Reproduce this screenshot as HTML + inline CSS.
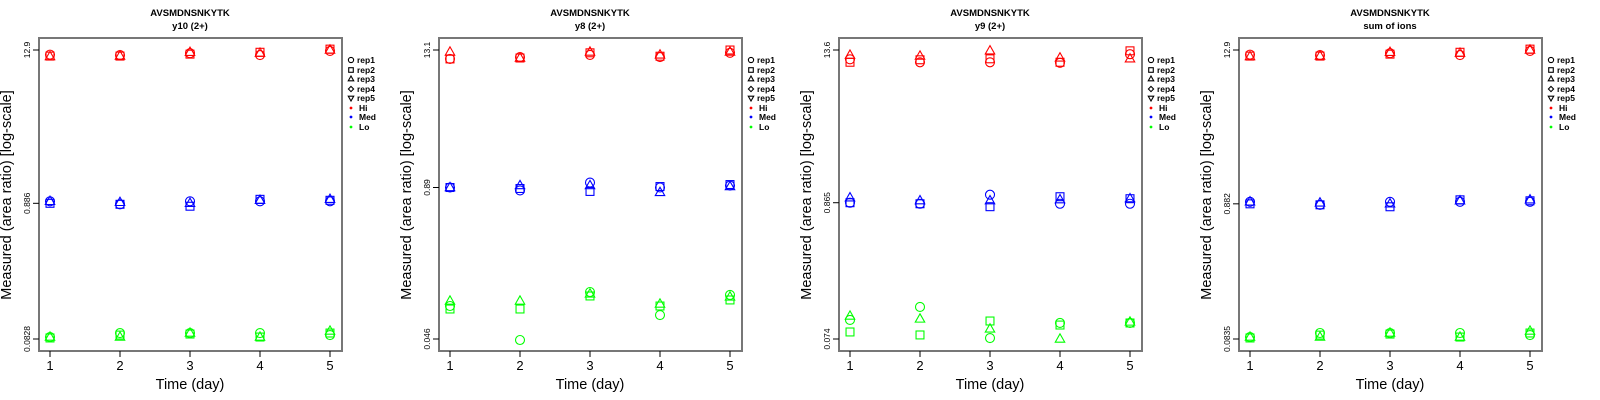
<!DOCTYPE html>
<html><head><meta charset="utf-8"><style>
html,body{margin:0;padding:0;background:#fff;width:1600px;height:400px;overflow:hidden}
svg{display:block;font-family:"Liberation Sans",sans-serif}
</style></head><body>
<svg id="chart" width="1600" height="400" viewBox="0 0 1600 400" xmlns="http://www.w3.org/2000/svg"></svg>
<script>
const days = [1,2,3,4,5];
const panelTitles = ["y10 (2+)","y8 (2+)","y9 (2+)","sum of ions"];
const peptide = "AVSMDNSNKYTK";
const tickTop = [12.9,13.1,13.6,12.9];
const tickMid = [0.886,0.89,0.865,0.882];
const tickBot = [0.0828,0.046,0.074,0.0835];
// values[panel][level] = [rep1 per day, rep2 per day, rep3 per day]
const p1Hi = [[11.9,11.8,12.2,11.8,12.7],[11.6,11.6,12.0,12.4,13.1],[11.5,11.6,12.4,12.2,12.9]];
const p1Med = [[0.917,0.871,0.917,0.917,0.917],[0.886,0.871,0.842,0.95,0.934],[0.917,0.901,0.886,0.934,0.95]];
const p1Lo = [[0.0857,0.0919,0.0919,0.0919,0.0887],[0.0843,0.0887,0.0903,0.0857,0.0919],[0.0857,0.0857,0.0919,0.0857,0.0951]];
const p2Hi = [[11.0,11.4,11.9,11.4,12.4],[11.0,11.2,12.4,11.6,13.1],[12.6,11.2,12.6,11.9,12.6]];
const p2Med = [[0.89,0.84,0.98,0.89,0.925],[0.89,0.873,0.824,0.907,0.943],[0.89,0.925,0.925,0.808,0.907]];
const p2Lo = [[0.0877,0.0451,0.1153,0.0735,0.1088],[0.0827,0.0827,0.1067,0.0877,0.0987],[0.0967,0.0967,0.111,0.0912,0.1047]];
const p3Hi = [[11.5,10.9,10.9,10.8,12.6],[10.9,11.4,11.6,10.9,13.4],[12.4,12.2,13.4,11.8,11.6]];
const p3Med = [[0.865,0.849,0.999,0.849,0.849],[0.865,0.849,0.805,0.964,0.93],[0.946,0.897,0.897,0.914,0.93]];
const p3Lo = [[0.1043,0.1319,0.0753,0.0988,0.0988],[0.084,0.0796,0.1024,0.0952,0.0988],[0.112,0.1062,0.0887,0.074,0.1006]];
const p4Hi = [[11.9,11.8,12.2,11.8,12.7],[11.6,11.6,12.0,12.4,13.1],[11.5,11.6,12.4,12.2,12.9]];
const p4Med = [[0.913,0.867,0.913,0.913,0.913],[0.882,0.867,0.838,0.946,0.93],[0.913,0.897,0.882,0.93,0.946]];
const p4Lo = [[0.0864,0.0927,0.0927,0.0927,0.0894],[0.085,0.0894,0.091,0.0864,0.0927],[0.0864,0.0864,0.0927,0.0864,0.0959]];
const panelData = [[p1Hi,p1Med,p1Lo],[p2Hi,p2Med,p2Lo],[p3Hi,p3Med,p3Lo],[p4Hi,p4Med,p4Lo]];
const levelNames = ["Hi","Med","Lo"];
const levelColors = ["#ff0000","#0000ff","#00ff00"];
const repNames = ["rep1","rep2","rep3","rep4","rep5"];

const NS="http://www.w3.org/2000/svg";
const svg=document.getElementById('chart');
function mk(tag,attrs,parent){const e=document.createElementNS(NS,tag);for(const k in attrs)e.setAttribute(k,attrs[k]);(parent||svg).appendChild(e);return e;}
function marker(g,shape,cx,cy,col,r){
  let e;
  if(shape===0){e=mk('circle',{cx:cx,cy:cy,r:r,fill:'none',stroke:col,'stroke-width':1.1},g);}
  else if(shape===1){e=mk('rect',{x:cx-r*0.88,y:cy-r*0.88,width:r*1.76,height:r*1.76,fill:'none',stroke:col,'stroke-width':1.1},g);}
  else if(shape===2){e=mk('polygon',{points:`${cx},${cy-r*1.15} ${cx-r*1.05},${cy+r*0.7} ${cx+r*1.05},${cy+r*0.7}`,fill:'none',stroke:col,'stroke-width':1.1},g);}
  else if(shape===3){e=mk('polygon',{points:`${cx},${cy-r} ${cx-r},${cy} ${cx},${cy+r} ${cx+r},${cy}`,fill:'none',stroke:col,'stroke-width':1.1},g);}
  else {e=mk('polygon',{points:`${cx},${cy+r*1.15} ${cx-r*1.05},${cy-r*0.7} ${cx+r*1.05},${cy-r*0.7}`,fill:'none',stroke:col,'stroke-width':1.1},g);}
  return e;
}
for(let p=0;p<4;p++){
  const ox=400*p;
  const g=mk('g',{transform:`translate(${ox},0)`});
  
  
  const L=39,R=342,T=38,B=351;
  const xs=d=>50+(d-1)*(330-50)/4;
  const lt=Math.log10(tickTop[p]),lb=Math.log10(tickBot[p]);
  const ys=v=>50+(lt-Math.log10(v))/(lt-lb)*(339-50);
  let t=mk('text',{x:190,y:16,'text-anchor':'middle','font-size':'9.5px','font-weight':'bold'},g);t.textContent=peptide;
  
  
  t=mk('text',{x:190,y:29,'text-anchor':'middle','font-size':'9.5px','font-weight':'bold'},g);t.textContent=panelTitles[p];
  
  
  const frame=mk('rect',{x:L,y:T,width:R-L,height:B-T,fill:'none',stroke:'#777','stroke-width':2},g);
  
  
  // x axis
  days.forEach(d=>{
    mk('line',{x1:xs(d),x2:xs(d),y1:B,y2:B+6,stroke:'#000','stroke-width':1},g);
    const tl=mk('text',{x:xs(d),y:370,'text-anchor':'middle','font-size':'13px'},g);tl.textContent=d;
    
    
  });
  let xt=mk('text',{x:190,y:389,'text-anchor':'middle','font-size':'14.5px'},g);xt.textContent="Time (day)";
  
  
  [tickTop[p],tickMid[p],tickBot[p]].forEach(v=>{
    const y=ys(v);
    mk('line',{x1:L-6,x2:L,y1:y,y2:y,stroke:'#000','stroke-width':1},g);
    const tl=mk('text',{x:0,y:0,'text-anchor':'middle','font-size':'8.5px',transform:`translate(30,${y}) rotate(-90)`},g);tl.textContent=v;
    
    
  });
  let yt=mk('text',{x:0,y:0,'text-anchor':'middle','font-size':'14.5px',transform:'translate(11,195) rotate(-90)'},g);yt.textContent="Measured (area ratio) [log-scale]";
  
  
  // points
  panelData[p].forEach((lev,li)=>{
    lev.forEach((rep,ri)=>{
      rep.forEach((v,di)=>{
        const m=marker(g,ri,xs(days[di]),ys(v),levelColors[li],4.5);
        
        
      });
    });
  });
  // legend
  const lg=mk('g',{},g);
  
  
  const rowsY=[60,70,79,89,98,108,117,127];
  repNames.forEach((n,i)=>{
    marker(lg,i,351,rowsY[i],'#000',2.6);
    const tx=mk('text',{x:357,y:rowsY[i]+3,'font-size':'8.5px','font-weight':'bold'},lg);tx.textContent=n;
    
    
  });
  levelNames.forEach((n,i)=>{
    mk('circle',{cx:351,cy:rowsY[5+i],r:1.4,fill:levelColors[i]},lg);
    const tx=mk('text',{x:359,y:rowsY[5+i]+3,'font-size':'8.5px','font-weight':'bold'},lg);tx.textContent=n;
    
    
  });
}
</script>
</body></html>
